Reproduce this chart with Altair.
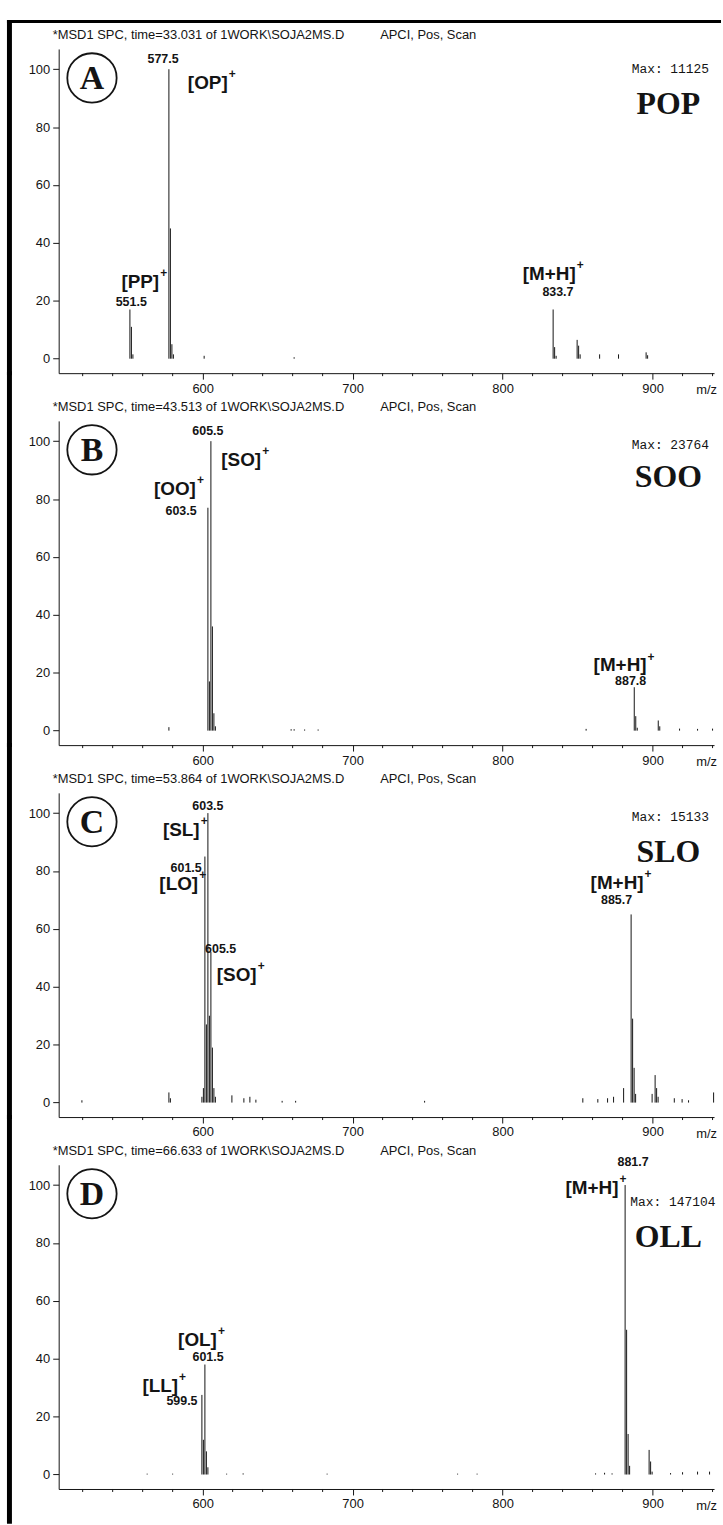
import altair as alt
import pandas as pd

# ---------------- data ----------------
X_DOMAIN = [504, 941]
Y_DOMAIN = [-5, 107]
X_MAJOR = [600, 700, 800, 900]
X_MINOR = [520, 540, 560, 580, 620, 640, 660, 680, 720, 740, 760, 780,
           820, 840, 860, 880, 920, 940]
Y_TICKS = list(range(0, 106, 5))

PANEL_LETTERS = ["A", "B", "C", "D"]
COMPOUNDS = ["POP", "SOO", "SLO", "OLL"]
MAX_TEXT = ["Max: 11125", "Max: 23764", "Max: 15133", "Max: 147104"]
TIMES = ["33.031", "43.513", "53.864", "66.633"]
MAX_Y = [100, 98.6, 98.5, 94]
MAX_MZ = [937.7, 937.7, 937.7, 942.0]
NAME_Y = [88, 87.5, 86.5, 82]

# Panel A (POP)
A_MZ = [551.5, 552.5, 553.5, 577.5, 578.5, 579.5, 580.5, 601.0, 661.0,
        833.7, 834.7, 835.7, 849.7, 850.7, 851.7, 864.7, 877.3, 895.7, 896.7]
A_INT = [17, 11, 1.5, 100, 45, 5, 1.5, 1, 0.5,
         17, 4, 1, 6.5, 4.5, 1.5, 1.5, 1.5, 2.2, 1.2]
A_ION_TEXT = ["[OP]", "[PP]", "[M+H]"]
A_ION_MZ = [616.7, 571.0, 848.8]
A_ION_Y = [95.2, 26.5, 29.1]
A_NUM_TEXT = ["577.5", "551.5", "833.7"]
A_NUM_MZ = [573.6, 552.4, 836.9]
A_NUM_Y = [103.4, 19.7, 23.2]

# Panel B (SOO)
B_MZ = [577.5, 603.5, 604.5, 605.5, 606.5, 607.5, 608.5, 659.0, 661.0, 668.0,
        677.0, 855.7, 887.8, 888.8, 889.8, 903.8, 904.8, 918.0, 930.0, 940.0]
B_INT = [1.2, 77, 17, 100, 36, 6, 1.5, 0.5, 0.5, 0.4,
         0.4, 0.6, 15, 5, 1, 3.5, 1.5, 0.7, 0.6, 0.7]
B_ION_TEXT = ["[SO]", "[OO]", "[M+H]"]
B_ION_MZ = [639.0, 595.5, 896.0]
B_ION_Y = [93.6, 83.5, 22.5]
B_NUM_TEXT = ["605.5", "603.5", "887.8"]
B_NUM_MZ = [603.5, 585.6, 885.4]
B_NUM_Y = [103.4, 75.9, 17.0]

# Panel C (SLO)
C_MZ = [519.5, 577.5, 578.5, 599.5, 600.5, 601.5, 602.5, 603.5, 604.5, 605.5,
        606.5, 607.5, 608.5, 619.5, 627.5, 631.5, 635.5, 653.0, 662.0, 748.0,
        853.5, 863.5, 870.0, 874.0, 880.7, 885.7, 886.7, 887.7, 888.7, 899.7,
        901.7, 902.7, 903.7, 914.5, 919.7, 924.0, 940.7]
C_INT = [0.8, 3.5, 1.5, 2, 5, 85, 27, 100, 30, 52,
         19, 5, 2, 2.5, 1.5, 2, 1, 0.6, 0.6, 0.6,
         1.5, 1.2, 1.5, 2, 5, 65, 29, 12, 3, 3,
         9.5, 5, 2, 1.5, 1.2, 0.8, 3.5]
C_ION_TEXT = ["[SL]", "[LO]", "[SO]", "[M+H]"]
C_ION_MZ = [598.0, 597.0, 636.0, 894.0]
C_ION_Y = [94.3, 75.5, 44.0, 76.0]
C_NUM_TEXT = ["603.5", "601.5", "605.5", "885.7"]
C_NUM_MZ = [603.5, 589.0, 612.0, 876.0]
C_NUM_Y = [102.4, 81.0, 53.0, 70.0]

# Panel D (OLL)
D_MZ = [563.0, 580.0, 599.5, 600.5, 601.5, 602.5, 603.5, 616.0, 627.0, 683.0,
        770.0, 783.0, 862.0, 868.0, 873.0, 881.7, 882.7, 883.7, 884.7, 897.7,
        898.7, 899.7, 912.0, 920.0, 930.0, 938.0]
D_INT = [0.3, 0.3, 27.5, 12, 38, 8, 2.5, 0.3, 0.4, 0.3,
         0.3, 0.3, 0.4, 0.6, 0.4, 100, 50, 14, 3, 8.5,
         4.5, 1, 0.5, 0.8, 1, 1]
D_ION_TEXT = ["[M+H]", "[OL]", "[LL]"]
D_ION_MZ = [877.3, 609.5, 583.6]
D_ION_Y = [99.0, 46.6, 30.7]
D_NUM_TEXT = ["881.7", "601.5", "599.5"]
D_NUM_MZ = [887.0, 603.6, 586.2]
D_NUM_Y = [108.0, 40.5, 25.3]

LETTER_MZ = 526.2
LETTER_Y = 97
NAME_MZ = 910.5

PANEL_W = 659
PANEL_H = 326
SPACING = 48

SANS = "Liberation Sans"
SERIF = "Liberation Serif"
MONO = "Liberation Mono"
INK = "#141414"

x_scale = alt.Scale(domain=X_DOMAIN, nice=False, zero=False)
y_scale = alt.Scale(domain=Y_DOMAIN, nice=False, zero=False)

x_axis = alt.Axis(
    values=X_MAJOR, grid=False, title=None,
    labelOverlap=False, labelFlush=False, tickSize=6,
    labelFont=SANS, labelFontSize=13, labelColor=INK, labelPadding=3,
    domainColor=INK, tickColor=INK, domainWidth=1, tickWidth=1,
)
y_axis = alt.Axis(
    values=Y_TICKS, grid=False, title=None,
    labelExpr="datum.value % 20 === 0 ? datum.label : ''",
    labelOverlap=False, labelFlush=False,
    tickSize={"condition": {"test": "datum.value % 20 === 0", "value": 6}, "value": 3},
    labelFont=SANS, labelFontSize=13, labelColor=INK, labelPadding=3,
    domainColor=INK, tickColor=INK, domainWidth=1, tickWidth=1,
)


def text_layer(df, **kw):
    return alt.Chart(df).mark_text(**kw).encode(
        x=alt.X("mz:Q", title=None),
        y=alt.Y("rel:Q", title=None),
        text="text:N",
    )


def one():
    return alt.Data(values=[{"k": 1}])


def panel(i, mz, inten, ion_text, ion_mz, ion_y, num_text, num_mz, num_y):
    peaks_df = pd.DataFrame({"mz": mz, "rel": inten, "base": [0.0] * len(mz)})
    peaks = alt.Chart(peaks_df).mark_rule(color=INK, strokeWidth=1).encode(
        x=alt.X("mz:Q", scale=x_scale, axis=x_axis, title=None),
        y=alt.Y("base:Q", scale=y_scale, axis=y_axis, title=None),
        y2="rel:Q",
    )
    minor_df = pd.DataFrame({"mz": X_MINOR})
    minor = alt.Chart(minor_df).mark_rule(color=INK, strokeWidth=1).encode(
        x=alt.X("mz:Q", title=None),
        y=alt.value(PANEL_H),
        y2=alt.value(PANEL_H + 3),
    )
    ion_df = pd.DataFrame({"mz": ion_mz, "rel": ion_y, "text": ion_text})
    plus_df = pd.DataFrame({"mz": ion_mz, "rel": ion_y, "text": ["+"] * len(ion_mz)})
    num_df = pd.DataFrame({"mz": num_mz, "rel": num_y, "text": num_text})
    ions = text_layer(ion_df, font=SANS, fontWeight="bold", fontSize=19,
                      align="right", baseline="middle", color=INK)
    plus = text_layer(plus_df, font=SANS, fontWeight="bold", fontSize=12,
                      align="left", baseline="middle", dx=1, dy=-9, color=INK)
    nums = text_layer(num_df, font=SANS, fontWeight="bold", fontSize=12.5,
                      align="center", baseline="middle", color=INK)
    max_df = pd.DataFrame({"mz": [MAX_MZ[i]], "rel": [MAX_Y[i]], "text": [MAX_TEXT[i]]})
    maxt = text_layer(max_df, font=MONO, fontSize=13, align="right",
                      baseline="middle", color=INK)
    name_df = pd.DataFrame({"mz": [NAME_MZ], "rel": [NAME_Y[i]], "text": [COMPOUNDS[i]]})
    name = text_layer(name_df, font=SERIF, fontWeight="bold", fontSize=32,
                      align="center", baseline="middle", color=INK)
    let_df = pd.DataFrame({"mz": [LETTER_MZ], "rel": [LETTER_Y], "text": [PANEL_LETTERS[i]]})
    circle = alt.Chart(let_df).mark_point(
        shape="circle", size=2460, filled=False, stroke=INK, strokeWidth=1.8, opacity=1
    ).encode(x=alt.X("mz:Q", title=None), y=alt.Y("rel:Q", title=None))
    letter = text_layer(let_df, font=SERIF, fontWeight="bold", fontSize=34,
                        align="center", baseline="alphabetic", dy=11, color=INK)
    title_txt = ("*MSD1 SPC, time=" + TIMES[i] + " of 1WORK\\SOJA2MS.D"
                 + "\u00a0" * 10 + "APCI, Pos, Scan")
    title = alt.Chart(one()).mark_text(
        font=SANS, fontSize=13, align="left", baseline="middle", color=INK
    ).encode(x=alt.value(-6), y=alt.value(-14), text=alt.value(title_txt))
    mz_lab = alt.Chart(one()).mark_text(
        font=SANS, fontSize=13, align="right", baseline="middle", color=INK
    ).encode(x=alt.value(662), y=alt.value(PANEL_H + 17), text=alt.value("m/z"))
    top = -29 if i == 0 else -SPACING - 2
    bottom = PANEL_H + 35 if i == 3 else PANEL_H + 2
    left_border = alt.Chart(one()).mark_rule(color="black", strokeWidth=5).encode(
        x=alt.value(-49.5), y=alt.value(top), y2=alt.value(bottom))
    layers = [peaks, minor, ions, plus, nums, maxt, name, circle, letter, title,
              mz_lab, left_border]
    if i == 0:
        top_border = alt.Chart(one()).mark_rule(color="black", strokeWidth=3).encode(
            x=alt.value(-52), x2=alt.value(666), y=alt.value(-27.5))
        layers.append(top_border)
    return alt.layer(*layers).properties(width=PANEL_W, height=PANEL_H)


panels = [
    panel(0, A_MZ, A_INT, A_ION_TEXT, A_ION_MZ, A_ION_Y, A_NUM_TEXT, A_NUM_MZ, A_NUM_Y),
    panel(1, B_MZ, B_INT, B_ION_TEXT, B_ION_MZ, B_ION_Y, B_NUM_TEXT, B_NUM_MZ, B_NUM_Y),
    panel(2, C_MZ, C_INT, C_ION_TEXT, C_ION_MZ, C_ION_Y, C_NUM_TEXT, C_NUM_MZ, C_NUM_Y),
    panel(3, D_MZ, D_INT, D_ION_TEXT, D_ION_MZ, D_ION_Y, D_NUM_TEXT, D_NUM_MZ, D_NUM_Y),
]

chart = alt.vconcat(*panels, spacing=SPACING, bounds="flush").properties(
    padding={"left": 5, "top": 13, "right": 0, "bottom": 0},
    background="white",
).configure_view(stroke=None)

chart.save("out.html", embed_options={"renderer": "svg", "actions": False})
